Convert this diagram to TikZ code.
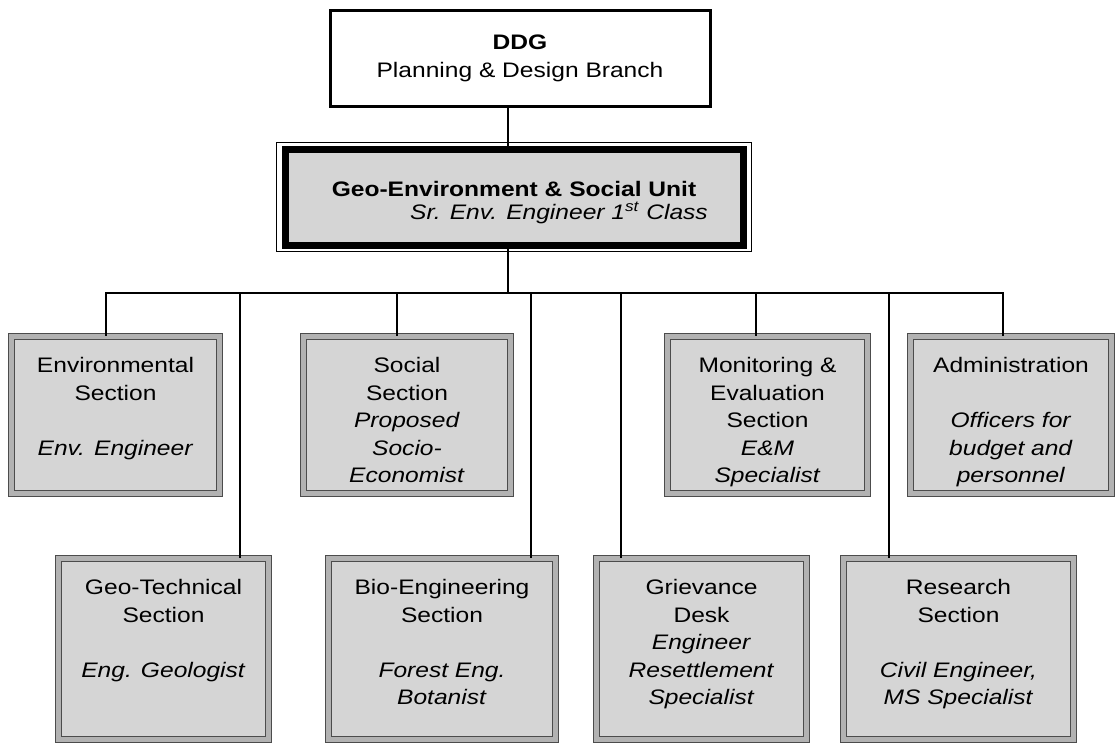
\documentclass[tikz,border=0pt]{standalone}
\usepackage{fontspec}
\setmainfont{Liberation Sans}[FakeStretch=1.17]
\usetikzlibrary{calc}
\newcommand{\boxtext}[3]{\parbox[c][\dimexpr#2pt/2\relax][t]{\dimexpr#1pt/2\relax}{\centering\fontsize{10.5pt}{13.75pt}\selectfont\rule{0pt}{18pt}#3}}
\begin{document}
\begin{tikzpicture}[x=0.5pt,y=-0.5pt,
		link/.style={line width=0.9pt},
		sectbox/.style={draw=black!70, line width=0.5pt, double=gray!60, double distance=2.5pt, fill=gray!33, inner sep=0pt}]
		\fill[white] (0,0) rectangle (1118,744);

		\node[draw, line width=1.5pt, fill=white, minimum width=190pt, minimum height=48pt, align=center, font=\fontsize{10.5pt}{14pt}\selectfont] (ddg) at (520,58.5) {\textbf{DDG}\\Planning \& Design Branch};
		\node[draw, line width=3.5pt, fill=gray!33, minimum width=229pt, minimum height=48pt, align=center, font=\fontsize{10.5pt}{14pt}\selectfont] (unit) at (514,197) {\rule{0pt}{13pt}\textbf{Geo-Environment \& Social Unit}\\[-2.5pt]\hspace*{45pt}\textit{Sr. Env. Engineer 1\textsuperscript{st} Class}};
		\draw[line width=0.6pt] ($(unit.north west)+(-5,-3)$) rectangle ($(unit.south east)+(5,3)$);

		\node[sectbox] (env) at (115.5,415) {\boxtext{208}{157}{Environmental\\Section\\[13.75pt]\textit{Env. Engineer}}};
		\node[sectbox] (soc) at (407,415) {\boxtext{207}{157}{Social\\Section\\\textit{Proposed}\\\textit{Socio-}\\\textit{Economist}}};
		\node[sectbox] (mon) at (767.5,415) {\boxtext{200}{157}{Monitoring \&\\Evaluation\\Section\\\textit{E\&M}\\\textit{Specialist}}};
		\node[sectbox] (adm) at (1011,415) {\boxtext{201}{157}{Administration\\[13.75pt]\textit{Officers for}\\\textit{budget and}\\\textit{personnel}}};

		\node[sectbox] (geo) at (163.5,649) {\boxtext{210}{181}{Geo-Technical\\Section\\[13.75pt]\textit{Eng. Geologist}}};
		\node[sectbox] (bio) at (442,649) {\boxtext{227}{181}{Bio-Engineering\\Section\\[13.75pt]\textit{Forest Eng.}\\\textit{Botanist}}};
		\node[sectbox] (grv) at (701.5,649) {\boxtext{210}{181}{Grievance\\Desk\\\textit{Engineer}\\\textit{Resettlement}\\\textit{Specialist}}};
		\node[sectbox] (res) at (958.5,649) {\boxtext{230}{181}{Research\\Section\\[13.75pt]\textit{Civil Engineer,}\\\textit{MS Specialist}}};

		\coordinate (bus) at (508,293);
		\draw[link] (bus |- ddg.south) -- (bus |- unit.north);
		\draw[link] (bus |- unit.south) -- (bus);
		\draw[link] (bus) -| ([xshift=-4.75pt]env.north);
		\draw[link] (bus) -| ([xshift=-5pt]soc.north);
		\draw[link] (bus) -| ([xshift=-5.75pt]mon.north);
		\draw[link] (bus) -| ([xshift=-4pt]adm.north);
		\draw[link] (bus) -| ([xshift=38.25pt]geo.north);
		\draw[link] (bus) -| ([xshift=44.5pt]bio.north);
		\draw[link] (bus) -| ([xshift=-40.25pt]grv.north);
		\draw[link] (bus) -| ([xshift=-34.75pt]res.north);
	\end{tikzpicture}
\end{document}
